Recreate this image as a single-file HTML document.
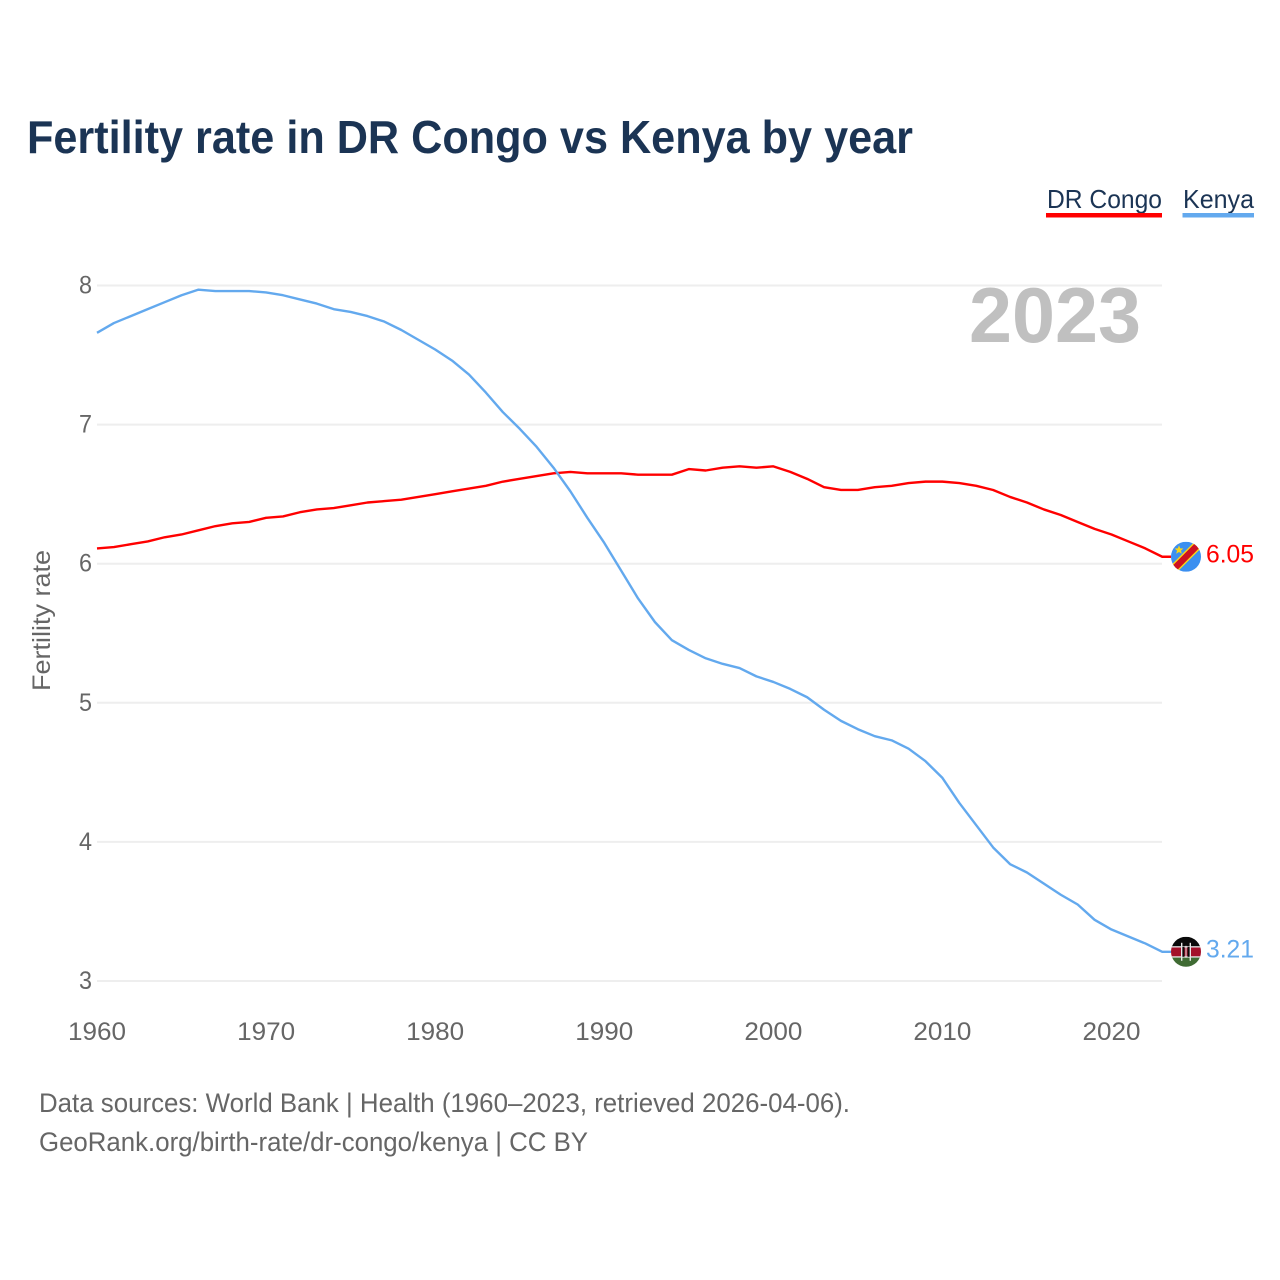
<!DOCTYPE html>
<html lang="en">
<head>
<meta charset="utf-8">
<title>Fertility rate in DR Congo vs Kenya by year</title>
<style>
html,body{margin:0;padding:0;background:#fff;}
svg{display:block;font-family:"Liberation Sans",sans-serif;}
</style>
</head>
<body>
<svg id="chart" xmlns="http://www.w3.org/2000/svg" width="1280" height="1280" viewBox="0 0 1280 1280">
  <defs>
    <clipPath id="flag-clip"><circle cx="0" cy="0" r="15"></circle></clipPath>
  </defs>
  <rect x="0" y="0" width="1280" height="1280" fill="#fff"></rect>
  <text x="27" y="153" font-size="46" font-weight="700" fill="#1b3454" textLength="886" lengthAdjust="spacingAndGlyphs">Fertility rate in DR Congo vs Kenya by year</text>

  <g id="grid"></g>
  <text id="year-label" x="969" y="342" font-size="78" font-weight="700" fill="#c0c0c0" textLength="172" lengthAdjust="spacingAndGlyphs"></text>
  <g id="y-ticks"></g>
  <g id="x-ticks"></g>
  <text transform="translate(50,691) rotate(-90)" font-size="25" fill="#666" textLength="141" lengthAdjust="spacingAndGlyphs">Fertility rate</text>

  <g id="series"></g>

  <g id="flag-drc">
    <g clip-path="url(#flag-clip)">
      <rect x="-15" y="-15" width="30" height="30" fill="#3b8ff0"></rect>
      <g transform="rotate(-45)">
        <rect x="-22" y="-4.6" width="44" height="9.2" fill="#f7d618"></rect>
        <rect x="-22" y="-3.2" width="44" height="6.4" fill="#ce1021"></rect>
      </g>
      <polygon points="-7,-11.5 -5.8,-8.4 -2.6,-8.2 -5,-6.1 -4.2,-3 -7,-4.7 -9.8,-3 -9,-6.1 -11.4,-8.2 -8.2,-8.4" fill="#f7d618"></polygon>
    </g>
  </g>
  <g id="flag-ken">
    <g clip-path="url(#flag-clip)">
      <rect x="-15" y="-15" width="30" height="10" fill="#0a0a0a"></rect>
      <rect x="-15" y="-5" width="30" height="10.5" fill="#a3112a"></rect>
      <rect x="-15" y="5.5" width="30" height="10" fill="#3f6b33"></rect>
      <rect x="-15" y="-5.6" width="30" height="1.3" fill="#e8e8e8"></rect>
      <rect x="-15" y="4.5" width="30" height="1.3" fill="#e8e8e8"></rect>
      <rect x="-5" y="-9" width="1.4" height="18" fill="#e8e8e8"></rect>
      <rect x="3.6" y="-9" width="1.4" height="18" fill="#e8e8e8"></rect>
      <rect x="-3.6" y="-5" width="2" height="10" fill="#0a0a0a"></rect>
      <rect x="1.6" y="-5" width="2" height="10" fill="#0a0a0a"></rect>
      <rect x="-0.5" y="-6" width="1" height="12" fill="#e8e8e8"></rect>
    </g>
  </g>
  <text id="value-drc" x="1206" y="562" font-size="25" fill="#ff0000" textLength="48" lengthAdjust="spacingAndGlyphs"></text>
  <text id="value-ken" x="1206" y="957" font-size="25" fill="#63a9ee" textLength="48" lengthAdjust="spacingAndGlyphs"></text>

  <g>
    <g>
      <text x="1047" y="208" font-size="26" fill="#1b3454" textLength="115" lengthAdjust="spacingAndGlyphs">DR Congo</text>
      <rect x="1046" y="213" width="116" height="4.5" fill="#ff0000"></rect>
    </g>
    <g>
      <text x="1183" y="208" font-size="26" fill="#1b3454" textLength="71" lengthAdjust="spacingAndGlyphs">Kenya</text>
      <rect x="1182.5" y="213" width="71.5" height="4.5" fill="#63a9ee"></rect>
    </g>
  </g>

  <text x="39" y="1112" font-size="27" fill="#666" textLength="811" lengthAdjust="spacingAndGlyphs">Data sources: World Bank | Health (1960–2023, retrieved 2026-04-06).</text>
  <text x="39" y="1151" font-size="27" fill="#666" textLength="549" lengthAdjust="spacingAndGlyphs">GeoRank.org/birth-rate/dr-congo/kenya | CC BY</text>
</svg>

<script>
const firstYear = 1960;
const congoValues = [6.11,6.12,6.14,6.16,6.19,6.21,6.24,6.27,6.29,6.30,6.33,6.34,6.37,6.39,6.40,6.42,6.44,6.45,6.46,6.48,6.50,6.52,6.54,6.56,6.59,6.61,6.63,6.65,6.66,6.65,6.65,6.65,6.64,6.64,6.64,6.68,6.67,6.69,6.70,6.69,6.70,6.66,6.61,6.55,6.53,6.53,6.55,6.56,6.58,6.59,6.59,6.58,6.56,6.53,6.48,6.44,6.39,6.35,6.30,6.25,6.21,6.16,6.11,6.05];
const kenyaValues = [7.66,7.73,7.78,7.83,7.88,7.93,7.97,7.96,7.96,7.96,7.95,7.93,7.90,7.87,7.83,7.81,7.78,7.74,7.68,7.61,7.54,7.46,7.36,7.23,7.09,6.97,6.84,6.69,6.52,6.33,6.15,5.95,5.75,5.58,5.45,5.38,5.32,5.28,5.25,5.19,5.15,5.10,5.04,4.95,4.87,4.81,4.76,4.73,4.67,4.58,4.46,4.28,4.12,3.96,3.84,3.78,3.70,3.62,3.55,3.44,3.37,3.32,3.27,3.21];
const yTickValues = [3,4,5,6,7,8];
const xTickValues = [1960,1970,1980,1990,2000,2010,2020];

const NS = 'http://www.w3.org/2000/svg';
const plot = { left: 97, right: 1162, top: 285.5, bottom: 981 };
const lastYear = firstYear + congoValues.length - 1;
function xScale(year) {
  return plot.left + (year - firstYear) * (1014.5 / 60);
}
function yScale(value) {
  return plot.bottom - (value - 3) * ((plot.bottom - plot.top) / 5);
}
function make(tag, parent, attrs) {
  const el = document.createElementNS(NS, tag);
  Object.keys(attrs).forEach(function (k) { el.setAttribute(k, attrs[k]); });
  parent.appendChild(el);
  return el;
}

const grid = document.getElementById('grid');
const yTicks = document.getElementById('y-ticks');
yTickValues.forEach(function (v) {
  const line = make('line', grid, { x1: plot.left, x2: plot.right, y1: yScale(v), y2: yScale(v), stroke: '#eeeeee', 'stroke-width': 2 });
  
  
  const label = make('text', yTicks, { x: 92, y: yScale(v) + 8, 'font-size': 25, fill: '#666', 'text-anchor': 'end', textLength: 13, lengthAdjust: 'spacingAndGlyphs' });
  
  
  label.textContent = String(v);
});

const xTicks = document.getElementById('x-ticks');
xTickValues.forEach(function (year) {
  const label = make('text', xTicks, { x: xScale(year), y: 1040, 'font-size': 25, fill: '#666', 'text-anchor': 'middle', textLength: 58, lengthAdjust: 'spacingAndGlyphs' });
  
  
  label.textContent = String(year);
});

function linePath(values) {
  const pts = values.map(function (v, i) {
    return xScale(firstYear + i).toFixed(2) + ',' + yScale(v).toFixed(2);
  });
  const lastY = yScale(values[values.length - 1]).toFixed(2);
  return 'M' + pts.join(' L') + ' L1171,' + lastY;
}
const series = document.getElementById('series');
const congoLine = make('path', series, { d: linePath(congoValues), fill: 'none', stroke: '#ff0000', 'stroke-width': 2.4, 'stroke-linejoin': 'round' });


const kenyaLine = make('path', series, { d: linePath(kenyaValues), fill: 'none', stroke: '#63a9ee', 'stroke-width': 2.4, 'stroke-linejoin': 'round' });



const congoLast = congoValues[congoValues.length - 1];
const kenyaLast = kenyaValues[kenyaValues.length - 1];
document.getElementById('flag-drc').setAttribute('transform', 'translate(1186,' + yScale(congoLast).toFixed(2) + ')');
document.getElementById('flag-ken').setAttribute('transform', 'translate(1186,' + yScale(kenyaLast).toFixed(2) + ')');
const congoLabel = document.getElementById('value-drc');
congoLabel.setAttribute('y', (yScale(congoLast) + 5.5).toFixed(2));
congoLabel.textContent = congoLast.toFixed(2);
const kenyaLabel = document.getElementById('value-ken');
kenyaLabel.setAttribute('y', (yScale(kenyaLast) + 5.5).toFixed(2));
kenyaLabel.textContent = kenyaLast.toFixed(2);
document.getElementById('year-label').textContent = String(lastYear);
</script>
</body>
</html>
